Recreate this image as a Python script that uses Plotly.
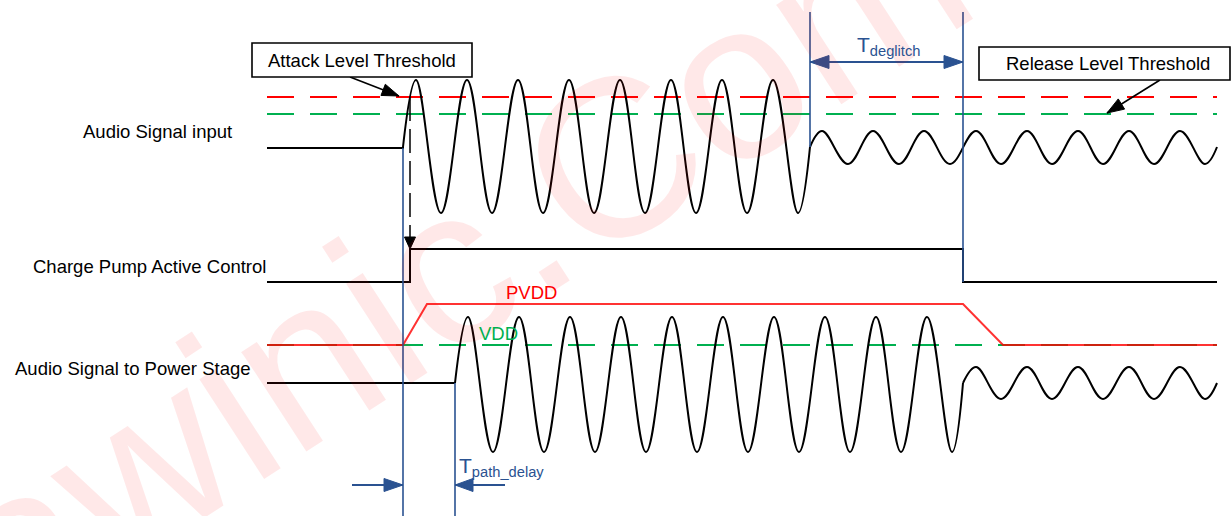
import math
import plotly.graph_objects as go

W, H = 1232, 516

# ---------------- timeline (diagram units = pixels of the drawing) -------------
x_start, x_end = 267, 1217
t_attack = 403        # input signal starts / attack crossing reference
t_cp_on = 410         # charge pump goes active
t_path = 455          # power-stage audio starts
t_release = 810       # input drops below release threshold
t_cp_off = 963        # charge pump inactive (after deglitch)
t_pvdd_up_end = 427
t_pvdd_down_end = 1003

# ---------------- levels ----------------
y_attack_thr = 97
y_release_thr = 114
y_in_base = 148
y_in_center = 147
y_in_big = (80, 213)        # peak, trough
y_in_small = (131, 164)
y_cp_low, y_cp_high = 282, 249
y_vdd = 345
y_pvdd = 304
y_out_base = 383
y_out_big = (317, 452)
y_out_small = (367, 399)

# ---------------- waveform extrema ----------------
in_big_peaks = [416, 467, 518, 569, 620, 671, 722, 773]
in_big_troughs = [441, 492, 543, 594, 645, 696, 747, 798]
in_small_peaks = [822, 873, 924, 976, 1027, 1078, 1129, 1180]
in_small_troughs = [848, 899, 950, 1001, 1052, 1103, 1154, 1205]
out_big_peaks = [468, 519, 570, 621, 672, 723, 774, 825, 876, 927]
out_big_troughs = [493, 544, 595, 646, 697, 748, 799, 850, 901, 952]
out_small_peaks = [976, 1027, 1078, 1129, 1180]
out_small_troughs = [1001, 1052, 1103, 1154, 1205]

# ---------------- text ----------------
row_labels = ["Audio Signal input", "Charge Pump Active Control", "Audio Signal to Power Stage"]
attack_label = "Attack Level Threshold"
release_label = "Release Level Threshold"
watermark = "awinic.Com"

BLACK = "#000000"
RED = "#FF0000"
GREEN = "#00B050"
BLUE = "#2A5291"
FONT = "Liberation Sans, Arial, sans-serif"
DASH = "27px,16px"


def wave(x0, y0, peaks, troughs, levels, x1, y1):
    pts = [(p, levels[0]) for p in peaks] + [(t, levels[1]) for t in troughs]
    pts.sort()
    xs = [x0] + [p[0] for p in pts] + [x1]
    ys = [y0] + [p[1] for p in pts] + [y1]
    return xs, ys


fig = go.Figure()


def line(xs, ys, color, width=2, dash=None, shape="linear", opacity=1.0, smoothing=None):
    kw = dict(color=color, width=width, shape=shape)
    if dash:
        kw["dash"] = dash
    if smoothing is not None:
        kw["smoothing"] = smoothing
    fig.add_trace(go.Scatter(x=xs, y=ys, mode="lines", line=kw, opacity=opacity,
                             hoverinfo="skip", showlegend=False))


# threshold lines
line([x_start, x_end], [y_attack_thr, y_attack_thr], RED, 2, DASH)
line([x_start, x_end], [y_release_thr, y_release_thr], GREEN, 2, DASH)

# audio input
line([x_start, t_attack, t_attack], [y_in_base, y_in_base, y_in_center], BLACK, 2)
xs, ys = wave(t_attack, y_in_center, in_big_peaks, in_big_troughs, y_in_big, t_release, y_in_center)
line(xs, ys, BLACK, 2, shape="spline", smoothing=1.1)
xs, ys = wave(t_release, y_in_center, in_small_peaks, in_small_troughs, y_in_small, x_end, y_in_center)
line(xs, ys, BLACK, 2, shape="spline", smoothing=1.1)

# charge pump
line([x_start, t_cp_on, t_cp_on, t_cp_off, t_cp_off, x_end],
     [y_cp_low, y_cp_low, y_cp_high, y_cp_high, y_cp_low, y_cp_low], BLACK, 2)

# VDD / PVDD
line([x_start, x_end], [y_vdd, y_vdd], GREEN, 2, DASH)
line([x_start, t_attack, t_pvdd_up_end, t_cp_off, t_pvdd_down_end, x_end],
     [y_vdd, y_vdd, y_pvdd, y_pvdd, y_vdd, y_vdd], RED, 2, opacity=0.8)

# power stage audio
line([x_start, t_path], [y_out_base, y_out_base], BLACK, 2)
xs, ys = wave(t_path, y_out_base, out_big_peaks, out_big_troughs, y_out_big, t_cp_off, y_out_base)
line(xs, ys, BLACK, 2, shape="spline", smoothing=1.1)
xs, ys = wave(t_cp_off, y_out_base, out_small_peaks, out_small_troughs, y_out_small, x_end, y_out_base)
line(xs, ys, BLACK, 2, shape="spline", smoothing=1.1)

# blue marker lines
y_top_marker = 12
line([t_attack, t_attack], [y_in_base, H], BLUE, 1.6)
line([t_path, t_path], [y_out_base, H], BLUE, 1.6)
line([t_release, t_release], [y_top_marker, y_in_center], BLUE, 1.6)
line([t_cp_off, t_cp_off], [y_top_marker, y_cp_low], BLUE, 1.6)

# dashed causal arrow attack -> charge pump
line([t_cp_on, t_cp_on], [y_attack_thr, y_cp_high - 10], BLACK, 1.5, dash="24px,8px")

shapes = []


def head(tip, frm, length, width, color):
    dx, dy = tip[0] - frm[0], tip[1] - frm[1]
    n = math.hypot(dx, dy)
    ux, uy = dx / n, dy / n
    bx, by = tip[0] - ux * length, tip[1] - uy * length
    px, py = -uy * width / 2, ux * width / 2
    path = f"M{tip[0]},{tip[1]} L{bx + px},{by + py} L{bx - px},{by - py} Z"
    shapes.append(dict(type="path", path=path, xref="x", yref="y",
                       fillcolor=color, line=dict(color=color, width=1)))


head((t_cp_on, y_cp_high), (t_cp_on, y_attack_thr), 12, 11, BLACK)

# deglitch double arrow
y_deg = 62
line([t_release, t_cp_off], [y_deg, y_deg], BLUE, 2)
head((t_release, y_deg), (t_cp_off, y_deg), 19, 13, BLUE)
head((t_cp_off, y_deg), (t_release, y_deg), 19, 13, BLUE)

# path delay arrows
y_pd = 485
line([352, t_attack], [y_pd, y_pd], BLUE, 2)
head((t_attack, y_pd), (352, y_pd), 19, 13, BLUE)
line([505, t_path], [y_pd, y_pd], BLUE, 2)
head((t_path, y_pd), (505, y_pd), 18, 13, BLUE)

# threshold callout boxes
attack_box = (252, 43, 472, 77)
release_box = (979, 47, 1230, 80)
for (x0, y0, x1, y1) in (attack_box, release_box):
    shapes.append(dict(type="rect", xref="x", yref="y", x0=x0, y0=y0, x1=x1, y1=y1,
                       fillcolor="white", line=dict(color=BLACK, width=1.6)))

# callout arrows
line([350, 399], [attack_box[3], y_attack_thr - 1], BLACK, 1.6)
head((399, y_attack_thr - 1), (350, attack_box[3]), 17, 12, BLACK)
line([1160, 1107], [release_box[3], y_release_thr - 1], BLACK, 1.6)
head((1107, y_release_thr - 1), (1160, release_box[3]), 17, 12, BLACK)

annotations = []


def text(x, y, s, size, color=BLACK, xanchor="center", angle=0):
    annotations.append(dict(x=x, y=y, xref="x", yref="y", text=s, showarrow=False,
                            xanchor=xanchor, yanchor="middle", textangle=angle,
                            font=dict(family=FONT, size=size, color=color)))


# watermark (drawn first)
text(455, 262, watermark, 225, color="rgba(255,0,0,0.09)", angle=-33)

text(234, 131, row_labels[0], 18.5, xanchor="right")
text(268, 266, row_labels[1], 18.5, xanchor="right")
text(253, 368, row_labels[2], 18.5, xanchor="right")
text((attack_box[0] + attack_box[2]) / 2, 60, attack_label, 18.5)
text(1108, 63, release_label, 18.5)
text(531, 292, "PVDD", 18.5, color=RED)
text(498, 333, "VDD", 18.5, color=GREEN)
text(888, 46, "T<sub>deglitch</sub>", 21, color=BLUE)
text(457, 467, "T<sub>path_delay</sub>", 21, color=BLUE, xanchor="left")

fig.update_layout(
    width=W, height=H, margin=dict(l=0, r=0, t=0, b=0),
    paper_bgcolor="white", plot_bgcolor="white",
    xaxis=dict(range=[0, W], visible=False, fixedrange=True),
    yaxis=dict(range=[H, 0], visible=False, fixedrange=True),
    shapes=shapes, annotations=annotations, showlegend=False,
)

fig.write_html("out.html", config={"displayModeBar": False},
               post_script="document.body.style.margin='0';document.body.style.overflow='hidden';")
